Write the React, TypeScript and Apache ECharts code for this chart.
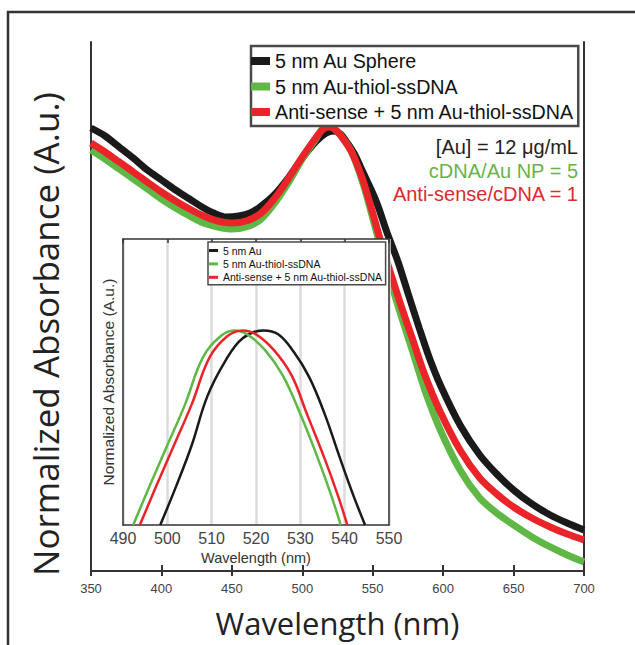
import React, { useEffect, useRef } from "react";
import * as echarts from "echarts";

// ---- Main spectrum (wavelength nm, normalized absorbance) ----
const blackMain: [number, number][] = [
  [350, 0.8374], [360, 0.8223], [370, 0.8015], [380, 0.7807], [390, 0.758], [400, 0.7391],
  [410, 0.7202], [420, 0.7032], [430, 0.6862], [437, 0.6767], [446, 0.6692], [455, 0.6711],
  [463, 0.6767], [470, 0.6881], [480, 0.7108], [490, 0.7429], [500, 0.7807], [510, 0.8129],
  [517, 0.828], [522, 0.8318], [527, 0.8261], [532, 0.8091], [537, 0.7883], [543, 0.7543],
  [549, 0.7202], [554, 0.6881], [560, 0.6408], [568, 0.5841], [575, 0.5255], [583, 0.4594],
  [590, 0.4045], [598, 0.3516], [612, 0.276], [626, 0.2193], [638, 0.1834], [650, 0.1531],
  [663, 0.1267], [676, 0.1059], [688, 0.0907], [700, 0.0775],
];
const greenMain: [number, number][] = [
  [350, 0.7958], [360, 0.7788], [370, 0.7599], [380, 0.741], [390, 0.7221], [400, 0.7032],
  [410, 0.6862], [420, 0.6711], [430, 0.6578], [440, 0.6503], [450, 0.6465], [460, 0.6503],
  [470, 0.6635], [480, 0.6938], [490, 0.7335], [500, 0.7788], [510, 0.8185], [514, 0.8355],
  [518, 0.8412], [522, 0.8374], [527, 0.8242], [535, 0.7921], [543, 0.7335], [550, 0.6673],
  [555, 0.6181], [562, 0.5539], [570, 0.4839], [578, 0.4178], [587, 0.3422], [598, 0.2665],
  [612, 0.1909], [626, 0.138], [638, 0.1096], [650, 0.087], [663, 0.0643], [676, 0.0454],
  [688, 0.0302], [700, 0.017],
];
const redMain: [number, number][] = [
  [350, 0.8091], [360, 0.7921], [370, 0.7732], [380, 0.7543], [390, 0.7353], [400, 0.7164],
  [410, 0.6994], [420, 0.6843], [430, 0.6711], [440, 0.6616], [450, 0.6578], [460, 0.6616],
  [470, 0.6749], [480, 0.7032], [490, 0.741], [500, 0.7826], [510, 0.8204], [515, 0.8355],
  [519, 0.8393], [523, 0.8355], [527, 0.8242], [535, 0.7921], [543, 0.7391], [550, 0.6767],
  [555, 0.6295], [562, 0.569], [570, 0.5028], [578, 0.4405], [587, 0.3705], [598, 0.3006],
  [612, 0.2287], [626, 0.1758], [638, 0.1456], [650, 0.121], [663, 0.1002], [676, 0.0832],
  [688, 0.0699], [700, 0.0586],
];

// ---- Inset (zoom around the plasmon peak) ----
const blackInset: [number, number][] = [
  [498.4, 0.9], [502, 0.92], [505.5, 0.941], [509, 0.966], [513, 0.984], [517, 0.996],
  [521.7, 1.0], [525, 0.998], [528.5, 0.989], [532, 0.976], [535.5, 0.957], [539, 0.934],
  [542, 0.915], [544.6, 0.9],
];
const greenInset: [number, number][] = [
  [492.3, 0.9], [496, 0.92], [500, 0.941], [504, 0.962], [508, 0.986], [512, 0.997],
  [515, 1.0], [518, 0.998], [522, 0.99], [526, 0.977], [530, 0.957], [534, 0.934],
  [537, 0.915], [539.1, 0.9],
];
const redInset: [number, number][] = [
  [493.8, 0.9], [497.5, 0.92], [501.5, 0.941], [505.5, 0.962], [509.5, 0.986], [513.5, 0.997],
  [517, 1.0], [520, 0.998], [524, 0.99], [528, 0.977], [531.5, 0.957], [535.5, 0.934],
  [538.5, 0.915], [540.6, 0.9],
];

const mainNames = ["5 nm Au Sphere", "5 nm Au-thiol-ssDNA", "Anti-sense + 5 nm Au-thiol-ssDNA"];
const insetNames = ["5 nm Au", "5 nm Au-thiol-ssDNA", "Anti-sense + 5 nm Au-thiol-ssDNA"];
const annotations = ["[Au] = 12 μg/mL", "cDNA/Au NP = 5", "Anti-sense/cDNA = 1"];
const yTitle = "Normalized Absorbance (A.u.)";

const BLACK = "#1a1a1a";
const GREEN = "#5fb846";
const RED = "#ea2429";
const ARIAL = "'Liberation Sans', Arial, sans-serif";
const MYRIAD = "'Open Sans', 'Noto Sans', sans-serif";

export default function App() {
  const ref = useRef<HTMLDivElement>(null);
  useEffect(() => {
    if (!ref.current) return;
    const chart = echarts.init(ref.current, undefined, { renderer: "svg" });
    const axisLine = { show: true, lineStyle: { color: "#333", width: 2 } };
    const insetLine = { show: true, lineStyle: { color: "#333", width: 1.5 } };
    const mainLine = (name: string, data: [number, number][], color: string) => ({
      name, type: "line", xAxisIndex: 0, yAxisIndex: 0, data, showSymbol: false,
      smooth: 0.3,
      lineStyle: { color, width: 7 }, itemStyle: { color }, z: 2,
    });
    const insetSeries = (name: string, data: [number, number][], color: string) => ({
      name, type: "line", xAxisIndex: 2, yAxisIndex: 2, data, showSymbol: false,
      smooth: 0.4, lineStyle: { color, width: 2.5 }, itemStyle: { color }, z: 5,
    });
    chart.setOption({
      animation: false,
      backgroundColor: "#fff",
      grid: [
        { left: 91, top: 42, width: 493, height: 529, containLabel: false },
        {
          left: 123, top: 239, width: 266, height: 286, show: true,
          backgroundColor: "#fff", borderWidth: 0, z: 3,
        },
      ],
      xAxis: [
        {
          gridIndex: 0, type: "value", min: 350, max: 700, interval: 50, position: "bottom",
          axisLine, axisTick: { show: true, length: 5, lineStyle: { color: "#333", width: 2 } },
          axisLabel: { fontSize: 13, color: "#444", margin: 11, fontFamily: ARIAL },
          splitLine: { show: false },
          name: "Wavelength (nm)", nameLocation: "middle", nameGap: 36,
          nameTextStyle: { fontSize: 31, color: "#222", fontFamily: MYRIAD },
        },
        {
          gridIndex: 0, type: "value", min: 350, max: 700, interval: 50, position: "top",
          axisLine, axisTick: { show: true, length: 6, lineStyle: { color: "#333", width: 2 } },
          axisLabel: { show: false }, splitLine: { show: false },
        },
        {
          gridIndex: 1, type: "value", min: 490, max: 550, interval: 10, position: "bottom", z: 4,
          axisLine: insetLine, axisTick: { show: false },
          axisLabel: { fontSize: 16, color: "#444", margin: 5, fontFamily: ARIAL },
          splitLine: { show: true, lineStyle: { color: "#dcdcdc", width: 2.5 } },
          name: "Wavelength (nm)", nameLocation: "middle", nameGap: 25,
          nameTextStyle: { fontSize: 14.5, color: "#333", fontFamily: ARIAL },
        },
        {
          gridIndex: 1, type: "value", min: 490, max: 550, interval: 10, position: "top", z: 4,
          axisLine: insetLine,
          axisTick: { show: true, inside: true, length: 4, lineStyle: { color: "#333", width: 1.5 } },
          axisLabel: { show: false }, splitLine: { show: false },
        },
      ],
      yAxis: [
        {
          gridIndex: 0, type: "value", min: 0, max: 1, position: "left",
          axisLine, axisTick: { show: false }, axisLabel: { show: false }, splitLine: { show: false },
        },
        {
          gridIndex: 0, type: "value", min: 0, max: 1, position: "right",
          axisLine, axisTick: { show: false }, axisLabel: { show: false }, splitLine: { show: false },
        },
        {
          gridIndex: 1, type: "value", min: 0.9, max: 1.047, position: "left", z: 4,
          axisLine: insetLine, axisTick: { show: false }, axisLabel: { show: false },
          splitLine: { show: false },
          name: yTitle, nameLocation: "middle", nameGap: 7,
          nameTextStyle: { fontSize: 15.5, color: "#333", fontFamily: ARIAL },
        },
        {
          gridIndex: 1, type: "value", min: 0.9, max: 1.047, position: "right", z: 4,
          axisLine: insetLine, axisTick: { show: false }, axisLabel: { show: false },
          splitLine: { show: false },
        },
      ],
      legend: [
        {
          data: mainNames, orient: "vertical", left: 251, top: 46, icon: "rect",
          itemWidth: 19, itemHeight: 8, itemGap: 5.5, padding: [5, 4, 4, 0],
          borderColor: "#4a4a4a", borderWidth: 2.5, backgroundColor: "#fff",
          textStyle: { fontSize: 19.7, lineHeight: 20, color: "#111", fontFamily: ARIAL },
          selectedMode: false, z: 6,
        },
        {
          data: insetNames, orient: "vertical", left: 208, top: 242, icon: "rect",
          itemWidth: 9, itemHeight: 3, itemGap: 2.4, padding: [3, 3, 2, 1],
          borderColor: "#4a4a4a", borderWidth: 1.5, backgroundColor: "#fff",
          textStyle: { fontSize: 10.5, lineHeight: 11, color: "#111", fontFamily: ARIAL },
          selectedMode: false, z: 6,
        },
      ],
      graphic: [
        {
          type: "rect", shape: { x: 8, y: 12, width: 700, height: 700 }, silent: true,
          style: { fill: "none", stroke: "#333", lineWidth: 2.5 }, z: 10,
        },
        {
          type: "text", x: 45, y: 334, rotation: Math.PI / 2, silent: true, z: 6,
          style: {
            text: yTitle, align: "center", verticalAlign: "middle",
            fontSize: 35, fontFamily: MYRIAD, fill: "#222",
          },
        },
        ...annotations.map((t, i) => ({
          type: "text", x: 578, y: 147 + i * 23.5, silent: true, z: 6,
          style: {
            text: t, align: "right", verticalAlign: "middle",
            fontSize: 20, fontFamily: ARIAL, fill: ["#222", "#6ab34a", "#dc2a2e"][i],
          },
        })),
      ],
      series: [
        mainLine(mainNames[0], blackMain, BLACK),
        mainLine(mainNames[1], greenMain, GREEN),
        mainLine(mainNames[2], redMain, RED),
        insetSeries(insetNames[0], blackInset, BLACK),
        insetSeries(insetNames[1], greenInset, GREEN),
        insetSeries(insetNames[2], redInset, RED),
      ],
    });
    return () => chart.dispose();
  }, []);
  return (
    <div
      ref={ref}
      style={{ position: "fixed", left: 0, top: 0, width: 635, height: 645, background: "#fff" }}
    />
  );
}
